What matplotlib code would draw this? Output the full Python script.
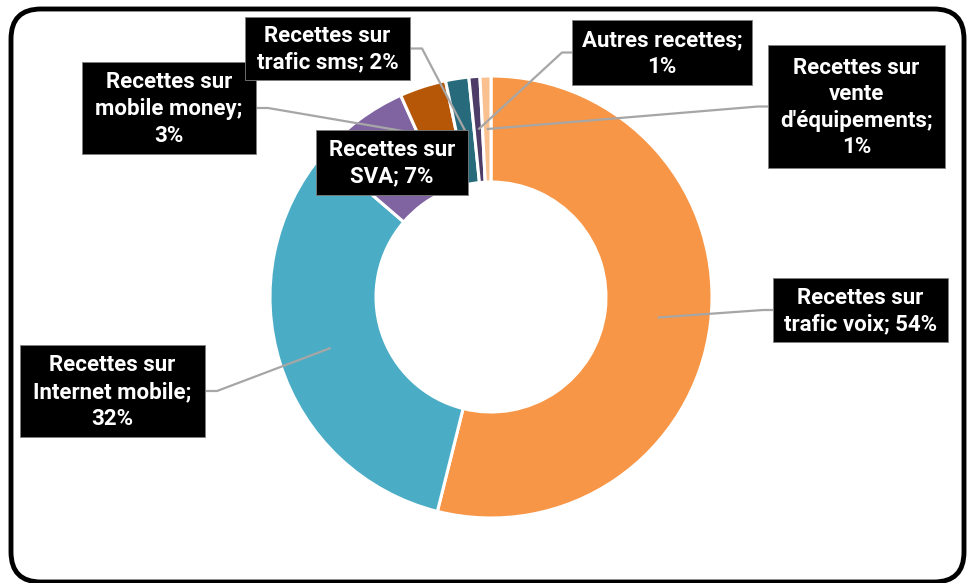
import matplotlib
matplotlib.use("Agg")
import matplotlib.pyplot as plt
import numpy as np
from matplotlib.patches import Rectangle, FancyBboxPatch

# ---- data ----
categories = [
    "Recettes sur\ntrafic voix",
    "Recettes sur\nInternet mobile",
    "Recettes sur\nSVA",
    "Recettes sur\nmobile money",
    "Recettes sur\ntrafic sms",
    "Autres recettes",
    "Recettes sur\nvente\nd'équipements",
]
values = [53.9, 32.4, 7.0, 3.4, 1.7, 0.8, 0.8]
colors = ["#F79646", "#4BACC6", "#8064A2", "#B65708", "#276A7C", "#4D3B68", "#FAC08F"]

# label layout (pixel boxes: x0, y0, x1, y1) and label text style
label_texts = [
    "Recettes sur\ntrafic voix; {}%",
    "Recettes sur\nInternet mobile;\n{}%",
    "Recettes sur\nSVA; {}%",
    "Recettes sur\nmobile money;\n{}%",
    "Recettes sur\ntrafic sms; {}%",
    "Autres recettes;\n{}%",
    "Recettes sur\nvente\nd'équipements;\n{}%",
]
boxes = [
    (773, 278, 948, 342),
    (20, 345, 205, 437),
    (316, 130, 468, 195),
    (82, 62, 256, 154),
    (245, 17, 410, 80),
    (572, 20, 752, 85),
    (768, 45, 945, 168),
]
# leader line anchor side: 'left', 'right' or None
anchor = ["left", "right", None, "right", "right", "left", "left"]

W, H = 967, 583
fig = plt.figure(figsize=(W / 100, H / 100), dpi=100)
ax = fig.add_axes([0, 0, 1, 1])

cx, cy = 491, 297
R_out, R_in = 221, 115

wedges, _ = ax.pie(
    values, colors=colors, startangle=-90, counterclock=True,
    radius=R_out, center=(cx, cy),
    wedgeprops=dict(width=R_out - R_in, edgecolor="white", linewidth=2.2),
)

ax.set_xlim(0, W)
ax.set_ylim(H, 0)
ax.set_aspect("equal")
ax.axis("off")

font = ["Roboto", "DejaVu Sans"]
total = sum(values)
cum = 0.0
r_mid = (R_out + R_in) / 2
for i, v in enumerate(values):
    mid = -90 + 360 * (cum + v / 2) / total
    cum += v
    tx = cx + r_mid * np.cos(np.radians(mid))
    ty = cy + r_mid * np.sin(np.radians(mid))
    x0, y0, x1, y1 = boxes[i]
    ym = (y0 + y1) / 2
    if anchor[i] == "left":
        xs = [x0, x0 - 10, tx]
        ys = [ym, ym, ty]
    elif anchor[i] == "right":
        xs = [x1, x1 + 12, tx]
        ys = [ym, ym, ty]
    else:
        xs = None
    if xs is not None:
        ax.plot(xs, ys, color="#A6A6A6", lw=1.6, zorder=3, solid_capstyle="butt")
    ax.add_patch(Rectangle((x0, y0), x1 - x0, y1 - y0, facecolor="black",
                           edgecolor="#7F7F7F", lw=0.6, zorder=4))
    pct = int(round(v / total * 100))
    ax.text((x0 + x1) / 2, ym + 1, label_texts[i].format(pct), color="white",
            fontsize=16, fontweight="bold", family=font, ha="center",
            va="center", linespacing=1.27, zorder=5)

frame = FancyBboxPatch((11, 9), 953, 573, boxstyle="round,pad=0,rounding_size=30",
                       facecolor="none", edgecolor="black", lw=3.5, zorder=6,
                       clip_on=False)
ax.add_patch(frame)

fig.savefig("out.png", dpi=100, facecolor="white")
